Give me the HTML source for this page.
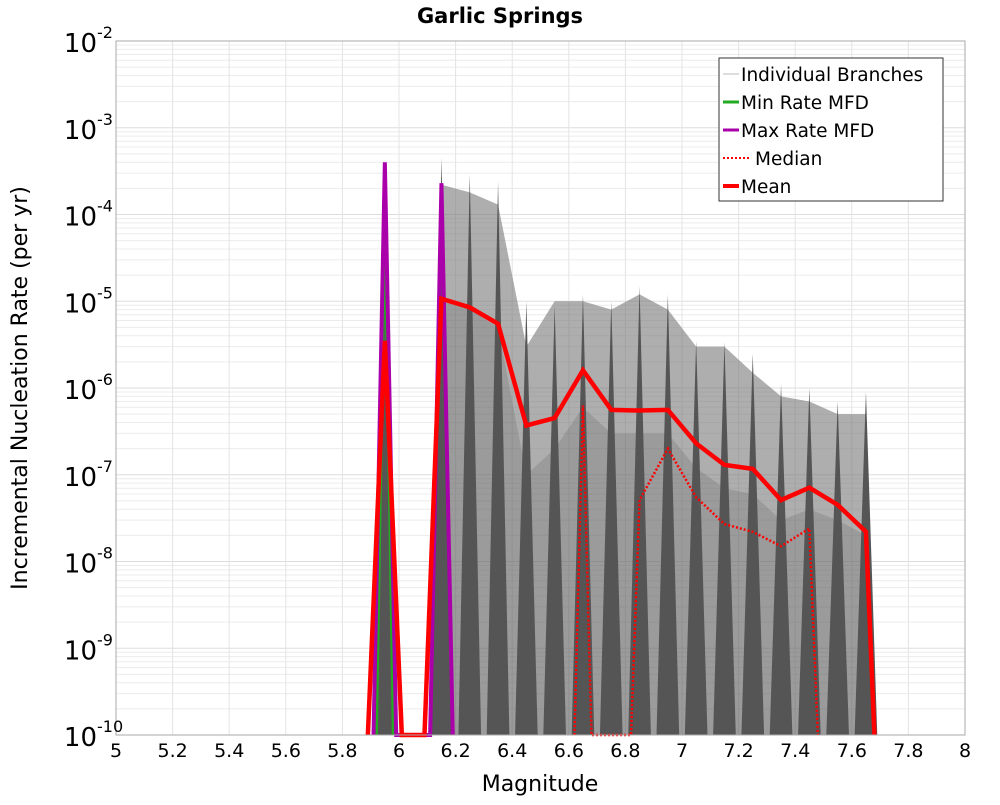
<!DOCTYPE html>
<html><head><meta charset="utf-8"><style>
body{margin:0;background:#fff;}
svg text{font-family:"DejaVu Sans","Liberation Sans",sans-serif;}
</style></head><body>
<svg id="chart" width="1000" height="800" xmlns="http://www.w3.org/2000/svg">
<rect width="1000" height="800" fill="#fff"/>
<text x="500" y="23" text-anchor="middle" font-size="21" font-weight="bold">Garlic Springs</text>
<text x="540" y="791" text-anchor="middle" font-size="22">Magnitude</text>
<text transform="translate(27,388) rotate(-90)" text-anchor="middle" font-size="22">Incremental Nucleation Rate (per yr)</text>
<g id="grid"></g>
<g id="branches"></g>
<g id="series"></g>
<rect x="116" y="41" width="849" height="694" fill="none" stroke="#aaa" stroke-width="1"/>
<g id="ticks"></g>
<g>
<rect x="719" y="58" width="224" height="143" fill="#fff" stroke="#333" stroke-width="1"/>
<g><line x1="723" y1="74" x2="739" y2="74" stroke="#bbb" stroke-width="1"/><text x="741" y="81" font-size="18.5">Individual Branches</text></g>
<g><line x1="723" y1="102" x2="739" y2="102" stroke="#22aa22" stroke-width="3"/><text x="741" y="109" font-size="18.5">Min Rate MFD</text></g>
<g><line x1="723" y1="130" x2="739" y2="130" stroke="#aa00aa" stroke-width="3"/><text x="741" y="137" font-size="18.5">Max Rate MFD</text></g>
<g><line x1="723" y1="158" x2="751" y2="158" stroke="#f00" stroke-width="2" stroke-dasharray="2,2"/><text x="755" y="165" font-size="18.5">Median</text></g>
<g><line x1="723" y1="186" x2="739" y2="186" stroke="#f00" stroke-width="4"/><text x="741" y="193" font-size="18.5">Mean</text></g>
</g>
</svg>
<script>
const xTicks=[5,5.2,5.4,5.6,5.8,6,6.2,6.4,6.6,6.8,7,7.2,7.4,7.6,7.8,8];
const yExps=[-2,-3,-4,-5,-6,-7,-8,-9,-10];
const bins=[6.15,6.25,6.35,6.45,6.55,6.65,6.75,6.85,6.95,7.05,7.15,7.25,7.35,7.45,7.55,7.65];
const spikePeak=[4.5e-4,2.9e-4,2.4e-4,1e-5,9e-6,1.2e-5,1e-5,1.5e-5,1.2e-5,3.5e-6,3.4e-6,2.5e-6,1.1e-6,1e-6,7e-7,9e-7];
const bandTop=[2.2e-4,1.8e-4,1.3e-4,3e-6,1e-5,1e-5,8e-6,1.2e-5,8e-6,3e-6,3e-6,1.5e-6,8e-7,7e-7,5e-7,5e-7];
const bandMid=[1e-5,8e-6,5e-6,1e-7,2e-7,6e-7,3e-7,3e-7,3e-7,1.2e-7,7e-8,6e-8,3e-8,4e-8,3e-8,2e-8];
const meanM=[5.89,5.95,6.01,6.09,6.15,6.25,6.35,6.45,6.55,6.65,6.75,6.85,6.95,7.05,7.15,7.25,7.35,7.45,7.55,7.65,7.68];
const meanV=[1e-10,3.5e-6,1e-10,1e-10,1.07e-5,8.5e-6,5.5e-6,3.7e-7,4.5e-7,1.6e-6,5.6e-7,5.5e-7,5.6e-7,2.3e-7,1.3e-7,1.17e-7,5.1e-8,7.1e-8,4.5e-8,2.2e-8,1e-10];
const medM=[6.62,6.65,6.68,6.82,6.85,6.95,7.05,7.15,7.25,7.35,7.45,7.48];
const medV=[1e-10,6.3e-7,1e-10,1e-10,5.1e-8,2e-7,5.5e-8,2.7e-8,2.2e-8,1.5e-8,2.4e-8,1e-10];
const maxM=[5.91,5.95,5.99,6.11,6.15,6.19];
const maxV=[1e-10,4e-4,1e-10,1e-10,2.3e-4,1e-10];
const minM=[5.92,5.95,5.98];
const minV=[1e-10,1e-4,1e-10];
const firstSpikeM=[5.95];
const firstSpikeV=[4e-4];

const X0=116,X1=965,Y0=41,Y1=735;
const xs=m=>X0+(m-5)/3*(X1-X0);
const ys=v=>{let l=Math.log10(Math.max(v,1e-10));if(l>-2)l=-2;return Y0+(-2-l)/8*(Y1-Y0);};
const NS="http://www.w3.org/2000/svg";
function mk(tag,attrs,parent){const e=document.createElementNS(NS,tag);for(const k in attrs)e.setAttribute(k,attrs[k]);parent.appendChild(e);return e;}
const gridG=document.getElementById('grid'),ticksG=document.getElementById('ticks'),brG=document.getElementById('branches'),seG=document.getElementById('series');
for(let e=-10;e<-2;e++){for(let k=1;k<10;k++){const y=ys(k*Math.pow(10,e));const l=mk('line',{x1:X0,x2:X1,y1:y,y2:y,stroke:k==1?'#ddd':'#ececec','stroke-width':1},gridG);

}}
xTicks.forEach(t=>{const x=xs(t);const l=mk('line',{x1:x,x2:x,y1:Y0,y2:Y1,stroke:'#e4e4e4','stroke-width':1},gridG);


const tx=mk('text',{x:x,y:757,'text-anchor':'middle','font-size':19},ticksG);tx.textContent=String(t);

});
yExps.forEach(e=>{const y=ys(Math.pow(10,e));const tx=mk('text',{x:97,y:y+11,'text-anchor':'end','font-size':26},ticksG);tx.textContent='10';


const s=mk('text',{x:97,y:y-3,'text-anchor':'start','font-size':16},ticksG);s.textContent=String(e);

});
function pts(M,V){return M.map((m,i)=>xs(m)+','+ys(V[i])).join(' ');}
const topPts=bins.map((m,i)=>xs(m)+','+ys(bandTop[i]));
const botPts=bins.map((m)=>xs(m)+','+ys(1e-10)).reverse();
const midPts=bins.map((m,i)=>xs(m)+','+ys(bandMid[i]));
const b1=mk('polygon',{points:topPts.concat(botPts).join(' '),fill:'#888','fill-opacity':0.35},brG);


const b2=mk('polygon',{points:topPts.concat(midPts.slice().reverse()).join(' '),fill:'#666','fill-opacity':0.35},brG);


const b3=mk('polygon',{points:midPts.concat(botPts).join(' '),fill:'#555','fill-opacity':0.45},brG);


const allSpM=firstSpikeM.concat(bins),allSpV=firstSpikeV.concat(spikePeak);
allSpM.forEach((m,i)=>{const p=mk('polygon',{points:xs(m-0.04)+','+Y1+' '+xs(m)+','+ys(allSpV[i])+' '+xs(m+0.04)+','+Y1,fill:'#555'},brG);

});
const pmin=mk('polyline',{points:pts(minM,minV),fill:'none',stroke:'#22aa22','stroke-width':3},seG);


const pmax=mk('polyline',{points:pts(maxM,maxV),fill:'none',stroke:'#aa00aa','stroke-width':4},seG);


const pmed=mk('polyline',{points:pts(medM,medV),fill:'none',stroke:'#f00','stroke-width':2.5,'stroke-dasharray':'2,2'},seG);


const pmean=mk('polyline',{points:pts(meanM,meanV),fill:'none',stroke:'#f00','stroke-width':4.5},seG);


</script>
</body></html>
